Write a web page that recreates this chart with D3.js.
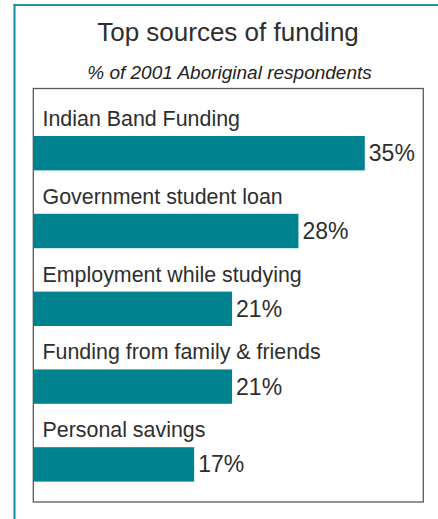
<!DOCTYPE html>
<html>
<head>
<meta charset="utf-8">
<script src="https://cdn.jsdelivr.net/npm/d3@7"></script>
<style>
  html, body { margin: 0; padding: 0; background: #ffffff; }
  svg { display: block; }
  text { font-family: "Liberation Sans", Arial, Helvetica, sans-serif; fill: #2e2e2e; }
</style>
</head>
<body>
<svg id="chart" width="438" height="519"></svg>
<script>
// Funding sources and the share of respondents citing each (%)
const categories = [
  "Indian Band Funding",
  "Government student loan",
  "Employment while studying",
  "Funding from family & friends",
  "Personal savings"
];
const shares = [35, 28, 21, 21, 17];
const titleText = "Top sources of funding";
const subtitleText = "% of 2001 Aboriginal respondents";

const data = categories.map((c, i) => ({ name: c, value: shares[i] }));

const W = 438, H = 519;
const svg = d3.select("#chart");

svg.append("rect").attr("width", W).attr("height", H).attr("fill", "#ffffff");

// Teal frame along the top and left edges
svg.append("line")
  .attr("x1", 13.5).attr("x2", W).attr("y1", 5).attr("y2", 5)
  .attr("stroke", "#1f98a2").attr("stroke-width", 2);
svg.append("line")
  .attr("x1", 14.5).attr("x2", 14.5).attr("y1", 4).attr("y2", H)
  .attr("stroke", "#0f8d98").attr("stroke-width", 2);

// Heading
svg.append("text")
  .attr("x", 228).attr("y", 41)
  .attr("text-anchor", "middle")
  .style("font-size", "26px")
  .text(titleText);

svg.append("text")
  .attr("x", 229.5).attr("y", 79)
  .attr("text-anchor", "middle")
  .style("font-size", "19px")
  .style("font-style", "italic")
  .style("fill", "#222")
  .text(subtitleText);

// Plot panel
const panel = { left: 33.3, top: 88.5, right: 423.3, bottom: 502 };
svg.append("rect")
  .attr("x", panel.left).attr("y", panel.top)
  .attr("width", panel.right - panel.left)
  .attr("height", panel.bottom - panel.top)
  .attr("fill", "none")
  .attr("stroke", "#5a5a5a")
  .attr("stroke-width", 1.3);

// Scales
const x = d3.scaleLinear().domain([0, 40]).range([33, 412.2]);
const y = d3.scaleBand()
  .domain(categories)
  .range([136, 481.6])
  .paddingInner(0.558)
  .paddingOuter(0);

const rows = svg.append("g").selectAll("g")
  .data(data)
  .join("g");

rows.append("rect")
  .attr("x", x(0))
  .attr("y", d => y(d.name))
  .attr("width", d => x(d.value) - x(0))
  .attr("height", y.bandwidth())
  .attr("fill", "#00838f");

rows.append("text")
  .attr("x", 42.5)
  .attr("y", d => y(d.name) - 10)
  .style("font-size", "21.4px")
  .text(d => d.name);

rows.append("text")
  .attr("x", d => x(d.value) + 4)
  .attr("y", d => y(d.name) + y.bandwidth() / 2 + 8)
  .style("font-size", "23px")
  .text(d => d.value + "%");
</script>
</body>
</html>
